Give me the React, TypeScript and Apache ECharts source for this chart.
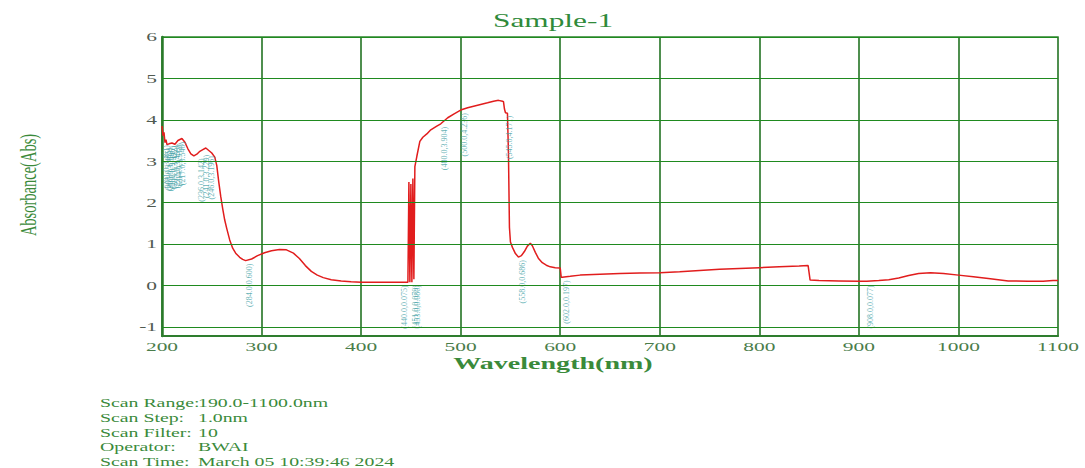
import React, { useEffect, useRef } from "react";
import * as echarts from "echarts";

const chartTitle = "Sample-1";
const xAxisTitle = "Wavelength(nm)";
const yAxisTitle = "Absorbance(Abs)";

const wavelength = [
  200, 201, 202, 203, 204, 205, 207, 210, 213, 216, 220, 223, 226, 229, 232, 235, 238, 241, 244, 247,
  250, 253, 255, 257, 259, 261, 263, 265, 268, 271, 274, 278, 281, 284, 290, 296, 303, 310, 318, 325,
  332, 338, 344, 350, 356, 362, 370, 380, 390, 400, 420, 440, 447, 448, 449, 450, 451, 452, 453, 454,
  456, 459, 462, 466, 470, 476, 480, 487, 493, 500, 507, 513, 520, 527, 533, 538, 542, 543, 544, 545,
  547, 548, 549, 550, 552, 555, 558, 561, 564, 567, 570, 572, 575, 578, 582, 586, 590, 595, 600, 601,
  602, 610, 620, 640, 660, 680, 700, 720, 740, 760, 780, 800, 820, 840, 849, 851, 860, 880, 900, 908,
  920, 930, 940, 950, 960, 972, 985, 1000, 1015, 1030, 1050, 1070, 1085, 1095, 1100,
];
const absorbance = [
  3.85, 3.62, 3.7, 3.45, 3.52, 3.4, 3.42, 3.44, 3.41, 3.5, 3.55, 3.46, 3.3, 3.18, 3.13, 3.17, 3.24, 3.28, 3.32, 3.26,
  3.2, 3.1, 2.9, 2.5, 2.15, 1.85, 1.58, 1.38, 1.1, 0.9, 0.78, 0.68, 0.63, 0.6, 0.64, 0.72, 0.79, 0.84, 0.87, 0.86,
  0.78, 0.65, 0.48, 0.34, 0.25, 0.19, 0.14, 0.11, 0.09, 0.08, 0.077, 0.075, 0.076, 2.5, 0.08, 2.45, 0.079, 2.58, 0.15, 2.87,
  3.12, 3.48, 3.58, 3.66, 3.76, 3.85, 3.904, 4.05, 4.14, 4.236, 4.29, 4.33, 4.37, 4.41, 4.45, 4.47, 4.45, 4.44, 4.26, 4.171,
  4.16, 3.2, 1.4, 1.05, 0.92, 0.77, 0.686, 0.72, 0.82, 0.95, 1.02, 0.96, 0.8, 0.66, 0.55, 0.49, 0.45, 0.43, 0.42, 0.2,
  0.197, 0.22, 0.25, 0.27, 0.29, 0.3, 0.31, 0.33, 0.36, 0.39, 0.41, 0.43, 0.45, 0.47, 0.48, 0.13, 0.12, 0.11, 0.1, 0.1,
  0.12, 0.14, 0.18, 0.24, 0.29, 0.31, 0.29, 0.25, 0.21, 0.17, 0.11, 0.1, 0.1, 0.12, 0.12,
];

const peakWavelength = [201, 203, 205, 207, 209, 212, 214, 217, 236, 241, 246, 284, 440, 451, 453, 480, 500, 545, 558, 602, 908];
const peakAbsorbance = [3.461, 3.405, 3.392, 3.446, 3.452, 3.469, 3.512, 3.54, 3.142, 3.229, 3.196, 0.6, 0.075, 0.079, 0.08, 3.904, 4.236, 4.171, 0.686, 0.197, 0.077];

const xTicks = [200, 300, 400, 500, 600, 700, 800, 900, 1000, 1100];
const yTicks = [-1, 0, 1, 2, 3, 4, 5, 6];

const infoLabels = ["Scan Range:", "Scan Step:", "Scan Filter:", "Operator:", "Scan Time:"];
const infoValues = ["190.0-1100.0nm", "1.0nm", "10", "BWAI", "March 05 10:39:46 2024"];

const FONT = "'Liberation Serif', 'Times New Roman', serif";
const SX = 1.65;
const GREEN_TEXT = "#3a8a3a";

export default function App() {
  const ref = useRef<HTMLDivElement>(null);

  useEffect(() => {
    if (!ref.current) return;
    const chart = echarts.init(ref.current, null, { renderer: "svg" });

    const linePoints = wavelength.map((w, i) => [w, absorbance[i]]);
    const peakPoints = peakWavelength.map((w, i) => [w, peakAbsorbance[i]]);

    chart.setOption({
      animation: false,
      backgroundColor: "#ffffff",
      grid: {
        left: 162,
        right: 27,
        top: 37,
        bottom: 132,
        show: true,
        borderColor: "#2e862e",
        borderWidth: 1.5,
        backgroundColor: "transparent",
      },
      xAxis: {
        type: "value",
        min: 200,
        max: 1100,
        interval: 100,
        axisLine: { show: true, onZero: false, lineStyle: { color: "#2e7d2e", width: 2 } },
        axisTick: { show: false },
        axisLabel: { show: false },
        splitLine: { show: true, lineStyle: { color: "#4f8f4f", width: 2 } },
      },
      yAxis: {
        type: "value",
        min: -1.22,
        max: 6,
        axisLine: { show: true, onZero: false, lineStyle: { color: "#2a7a2a", width: 2.5 } },
        axisTick: { show: false },
        axisLabel: { show: false },
        splitLine: { show: false },
      },
      series: [
        {
          type: "line",
          data: [],
          silent: true,
          z: 1,
          markLine: {
            silent: true,
            symbol: "none",
            label: { show: false },
            lineStyle: { color: "#1f8a1f", width: 1.2, type: "solid" },
            data: yTicks.map((v) => ({ yAxis: v })),
          },
        },
        {
          type: "line",
          data: linePoints,
          showSymbol: false,
          z: 3,
          lineStyle: { color: "#e11d1d", width: 1.5 },
        },
        {
          type: "scatter",
          data: peakPoints,
          symbolSize: 0,
          z: 4,
          label: {
            show: true,
            formatter: (p: any) => `(${p.value[0].toFixed(1)},${p.value[1].toFixed(3)})`,
            rotate: 90,
            position: [4, 3],
            align: "right",
            verticalAlign: "middle",
            fontSize: 8,
            fontFamily: FONT,
            color: "#3b9ea3",
          },
        },
      ],
    });

    const g: any[] = [];
    xTicks.forEach((v) => {
      const p = chart.convertToPixel({ gridIndex: 0 } as any, [v, 0]) as number[];
      g.push({
        type: "text",
        x: p[0],
        y: 347,
        scaleX: SX,
        style: {
          text: String(v),
          fontSize: 13,
          fontFamily: FONT,
          fill: "#4a7d4a",
          align: "center",
          verticalAlign: "middle",
          textAlign: "center",
          textVerticalAlign: "middle",
        },
      });
    });
    yTicks.forEach((v) => {
      const p = chart.convertToPixel({ gridIndex: 0 } as any, [200, v]) as number[];
      g.push({
        type: "text",
        x: 157,
        y: p[1],
        scaleX: SX,
        style: {
          text: String(v),
          fontSize: 13,
          fontFamily: FONT,
          fill: "#505a50",
          align: "right",
          verticalAlign: "middle",
          textAlign: "right",
          textVerticalAlign: "middle",
        },
      });
    });
    g.push({
      type: "text",
      x: 553,
      y: 21,
      scaleX: SX,
      style: {
        text: chartTitle,
        fontSize: 19,
        fontFamily: FONT,
        fill: "#2f8a3a",
        align: "center",
        verticalAlign: "middle",
        textAlign: "center",
        textVerticalAlign: "middle",
      },
    });
    g.push({
      type: "text",
      x: 553,
      y: 363,
      scaleX: SX,
      style: {
        text: xAxisTitle,
        fontSize: 17,
        fontWeight: "bold",
        fontFamily: FONT,
        fill: GREEN_TEXT,
        align: "center",
        verticalAlign: "middle",
        textAlign: "center",
        textVerticalAlign: "middle",
      },
    });
    g.push({
      type: "text",
      x: 28,
      y: 185,
      rotation: Math.PI / 2,
      scaleY: SX,
      style: {
        text: yAxisTitle,
        fontSize: 14.5,
        fontFamily: FONT,
        fill: GREEN_TEXT,
        align: "center",
        verticalAlign: "middle",
        textAlign: "center",
        textVerticalAlign: "middle",
      },
    });
    infoLabels.forEach((lab, i) => {
      const y = 403 + i * 14.8;
      g.push({
        type: "text",
        x: 100,
        y,
        scaleX: SX,
        style: {
          text: lab,
          fontSize: 12,
          fontFamily: FONT,
          fill: GREEN_TEXT,
          align: "left",
          verticalAlign: "middle",
          textAlign: "left",
          textVerticalAlign: "middle",
        },
      });
      g.push({
        type: "text",
        x: 198,
        y,
        scaleX: SX,
        style: {
          text: infoValues[i],
          fontSize: 12,
          fontFamily: FONT,
          fill: GREEN_TEXT,
          align: "left",
          verticalAlign: "middle",
          textAlign: "left",
          textVerticalAlign: "middle",
        },
      });
    });
    chart.setOption({ graphic: g });

    return () => chart.dispose();
  }, []);

  return (
    <div
      ref={ref}
      style={{ position: "absolute", left: 0, top: 0, width: 1085, height: 468 }}
    />
  );
}
